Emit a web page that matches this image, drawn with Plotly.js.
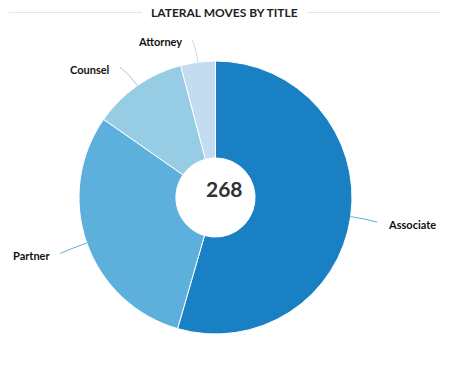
<!DOCTYPE html>
<html>
<head>
<meta charset="utf-8">
<script src="https://cdn.plot.ly/plotly-3.0.1.min.js"></script>
<style>html,body{margin:0;padding:0;background:#fff;}#chart{width:451px;height:369px;}</style>
</head>
<body>
<div id="chart"></div>
<script>
const categories = ["Associate", "Partner", "Counsel", "Attorney"];
const values = [146, 81, 30, 11];
const colors = ["#1a80c4", "#5dafdc", "#96cce4", "#c4dcf0"];
const titleText = "LATERAL MOVES BY TITLE";

const W = 451, H = 369;
const cx = 215.5, cy = 197.5, R = 136.5;
const total = values.reduce((a, b) => a + b, 0);
const centerText = String(total);

const px = x => x / W;
const py = y => 1 - y / H;

const shapes = [
  {type: "line", xref: "paper", yref: "paper", x0: px(9), x1: px(142), y0: py(12.5), y1: py(12.5), line: {color: "#e6e6e6", width: 1}},
  {type: "line", xref: "paper", yref: "paper", x0: px(307), x1: px(441), y0: py(12.5), y1: py(12.5), line: {color: "#e6e6e6", width: 1}}
];
const annotations = [
  {xref: "paper", yref: "paper", x: px(224), y: py(13), text: titleText, showarrow: false,
   xanchor: "center", yanchor: "middle", font: {family: "Lato", size: 12, color: "#222", weight: 700}},
  {xref: "paper", yref: "paper", x: px(224.5), y: py(188), text: "<b>" + centerText + "</b>", showarrow: false,
   xanchor: "center", yanchor: "middle", font: {family: "Lato", size: 21, color: "#333"}}
];

let cum = 0;
values.forEach((v, i) => {
  const mid = (cum + v / 2) / total * 2 * Math.PI;
  cum += v;
  const s = Math.sin(mid), c = Math.cos(mid);
  const x0 = cx + R * s, y0 = cy - R * c;
  const x1 = cx + (R + 14) * s, y1 = cy - (R + 14) * c;
  const x2 = cx + (R + 25) * s + (s >= 0 ? 2 : -3), y2 = cy - (R + 25) * c + 2;
  shapes.push({type: "path", xref: "paper", yref: "paper",
    path: `M ${px(x0)} ${py(y0)} Q ${px(x1)} ${py(y1)} ${px(x2)} ${py(y2)}`,
    line: {color: colors[i] === "#1a80c4" ? "#5dafdc" : colors[i], width: 1}});
  const right = s >= 0;
  annotations.push({xref: "paper", yref: "paper", x: px(x2 + (right ? 9 : -8)), y: py(y2 + 2),
    text: "<b>" + categories[i] + "</b>", showarrow: false,
    xanchor: right ? "left" : "right", yanchor: "middle",
    font: {family: "Lato", size: 11, color: "#111"}});
});

const data = [{
  type: "pie",
  labels: categories,
  values: values,
  marker: {colors: colors, line: {color: "#ffffff", width: 1}},
  hole: 0.29,
  sort: false,
  direction: "clockwise",
  rotation: 0,
  textinfo: "none",
  hoverinfo: "label+value",
  showlegend: false,
  domain: {x: [(cx - R) / W, (cx + R) / W], y: [1 - (cy + R) / H, 1 - (cy - R) / H]}
}];

const layout = {
  width: W, height: H,
  margin: {l: 0, r: 0, t: 0, b: 0},
  paper_bgcolor: "#fff",
  showlegend: false,
  shapes: shapes,
  annotations: annotations
};

Plotly.newPlot("chart", data, layout, {displayModeBar: false, staticPlot: true});
</script>
</body>
</html>
